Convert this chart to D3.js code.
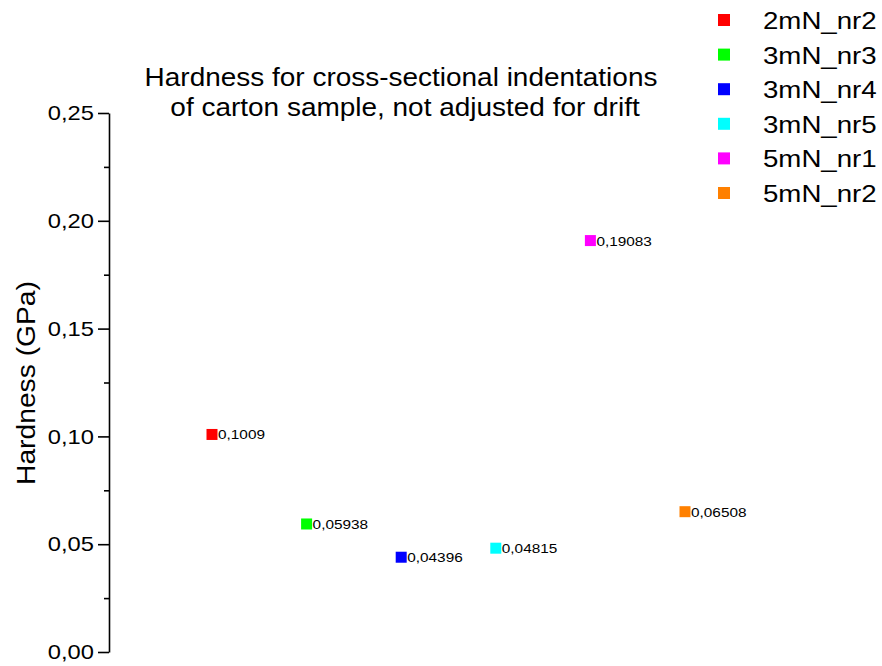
<!DOCTYPE html>
<html>
<head>
<meta charset="utf-8">
<script src="https://cdn.jsdelivr.net/npm/d3@7/dist/d3.min.js"></script>
<style>
  html, body { margin: 0; padding: 0; background: #fff; }
  svg { display: block; font-family: Arial, "Liberation Sans", Helvetica, sans-serif; }
</style>
</head>
<body>
<svg id="chart" width="882" height="666"></svg>
<script>
// Hardness measurements per indentation series
const categories = ["2mN_nr2", "3mN_nr3", "3mN_nr4", "3mN_nr5", "5mN_nr1", "5mN_nr2"];
const hardness = [0.1009, 0.05938, 0.04396, 0.04815, 0.19083, 0.06508];
const valueLabels = ["0,1009", "0,05938", "0,04396", "0,04815", "0,19083", "0,06508"];
const colors = ["#ff0000", "#00ff00", "#0000ff", "#00ffff", "#ff00ff", "#ff8000"];
const yTicks = [0, 0.05, 0.10, 0.15, 0.20, 0.25];
const yTickLabels = ["0,00", "0,05", "0,10", "0,15", "0,20", "0,25"];
const titleLines = ["Hardness for cross-sectional indentations", "of carton sample, not adjusted for drift"];

// the exported figure uses a slightly wide typeface
const wide = 1.13;

const svg = d3.select("#chart");

const axisX = 109;
const y = d3.scaleLinear().domain([0, 0.25]).range([652, 113]);
// series index 1..6 on a hidden x range 0..7
const x = d3.scaleLinear().domain([0, 7]).range([117.4, 779.6]);

// Y axis: major ticks with labels
const yAxis = d3.axisLeft(y)
  .tickValues(yTicks)
  .tickFormat((d, i) => yTickLabels[i])
  .tickSize(11)
  .tickPadding(5)
  .tickSizeOuter(0);

const gy = svg.append("g")
  .attr("transform", `translate(${axisX},0)`)
  .call(yAxis);
gy.select(".domain").attr("stroke", "#000").attr("stroke-width", 1.6);
gy.selectAll(".tick line").attr("stroke", "#000").attr("stroke-width", 1.6);
gy.selectAll(".tick text")
  .attr("x", 0)
  .attr("transform", `translate(-15,0) scale(${wide},1)`)
  .attr("font-size", 21)
  .attr("font-family", "Arial, 'Liberation Sans', sans-serif")
  .attr("fill", "#000");

// minor ticks halfway between majors
const minor = d3.range(0.025, 0.25, 0.05);
const yMinor = d3.axisLeft(y).tickValues(minor).tickSize(5).tickFormat("").tickSizeOuter(0);
const gm = svg.append("g").attr("transform", `translate(${axisX},0)`).call(yMinor);
gm.select(".domain").remove();
gm.selectAll(".tick line").attr("stroke", "#000").attr("stroke-width", 1.6);

// Y axis title
svg.append("text")
  .attr("transform", `translate(35,383) rotate(-90) scale(${wide},1)`)
  .attr("text-anchor", "middle")
  .attr("font-size", 25)
  .text("Hardness (GPa)");

// Chart title
const titleX = [401, 405];
svg.append("g").selectAll("text")
  .data(titleLines)
  .join("text")
  .attr("transform", (d, i) => `translate(${titleX[i]},${86 + i * 30}) scale(${wide * 0.99},1)`)
  .attr("text-anchor", "middle")
  .attr("font-size", 25)
  .text(d => d);

// Data points
const sq = 11;
const pts = svg.append("g").selectAll("g")
  .data(hardness)
  .join("g")
  .attr("transform", (d, i) => `translate(${x(i + 1)},${y(d)})`);
pts.append("rect")
  .attr("x", -sq / 2).attr("y", -sq / 2)
  .attr("width", sq).attr("height", sq)
  .attr("fill", (d, i) => colors[i]);
pts.append("text")
  .attr("transform", `translate(${sq / 2 + 0.5},5) scale(${wide},1)`)
  .attr("font-size", 13.6)
  .text((d, i) => valueLabels[i]);

// Legend
const legend = svg.append("g").selectAll("g")
  .data(categories)
  .join("g")
  .attr("transform", (d, i) => `translate(724,${20 + i * 34.6})`);
legend.append("rect")
  .attr("x", -6).attr("y", -6)
  .attr("width", 12).attr("height", 12)
  .attr("fill", (d, i) => colors[i]);
legend.append("text")
  .attr("transform", `translate(39,9) scale(${wide * 1.02},1)`)
  .attr("font-size", 24)
  .text(d => d);
</script>
</body>
</html>
